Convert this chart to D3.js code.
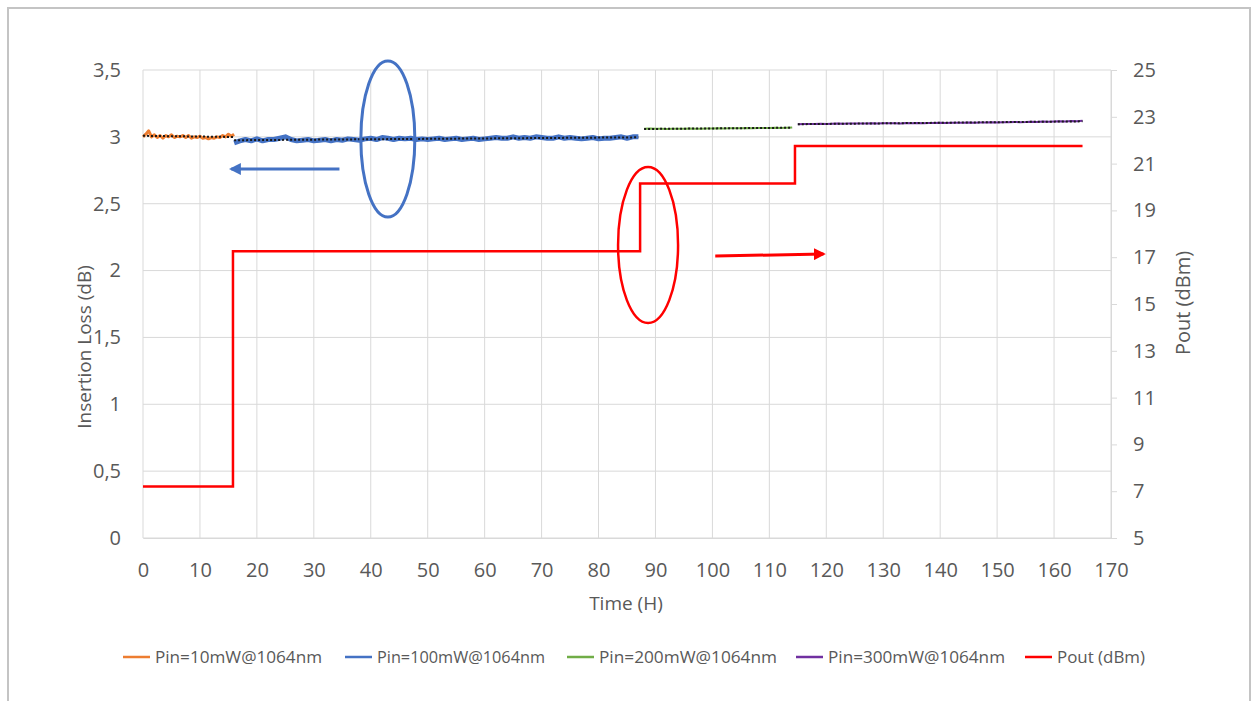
<!DOCTYPE html>
<html>
<head>
<meta charset="utf-8">
<script src="https://cdn.jsdelivr.net/npm/d3@7"></script>
<style>
  body { margin: 0; background: #fff; }
  svg { display: block; font-family: "Open Sans", sans-serif; }
</style>
</head>
<body>
<svg id="chart" width="1258" height="701"></svg>
<script>
// time ticks (H)
var timeTicks = d3.range(0, 171, 10)
var lossTicks = [0, 0.5, 1, 1.5, 2, 2.5, 3, 3.5]
var poutTicks = [5, 7, 9, 11, 13, 15, 17, 19, 21, 23, 25]

// insertion loss, Pin=10mW, t = 0..16 h
var t10 = d3.range(0, 16.5, 0.5)
var il10 = [3.00, 3.02, 3.045, 3.00, 3.015, 2.995, 3.01, 2.99, 3.01, 3.00, 3.015, 2.995, 3.005, 3.00,
  3.01, 2.995, 3.01, 2.99, 3.00, 2.995, 3.005, 2.99, 2.995, 2.985, 2.995, 2.99, 3.00, 2.995,
  3.01, 3.00, 3.02, 3.005, 3.02]

// Pin=100mW, t = 16..87 h
var t100 = d3.range(16, 88)
var il100 = [2.955, 2.97, 2.98, 2.97, 2.985, 2.97, 2.98, 2.98, 2.99, 3.00, 2.98, 2.97,
  2.975, 2.98, 2.97, 2.975, 2.98, 2.97, 2.98, 2.975, 2.985, 2.98, 2.975, 2.985,
  2.99, 2.98, 2.995, 2.99, 2.98, 2.99, 2.985, 2.99, 2.98, 2.985, 2.98, 2.985,
  2.99, 2.98, 2.985, 2.99, 2.98, 2.985, 2.99, 2.98, 2.985, 2.99, 2.995, 2.99,
  2.99, 3.00, 2.99, 2.995, 2.99, 3.00, 2.995, 2.99, 2.99, 3.00, 2.99, 2.995,
  2.99, 2.985, 2.99, 2.995, 2.985, 2.99, 2.99, 2.995, 3.00, 2.99, 3.00, 3.00]

// Pin=200mW, t = 88..114 h
var t200 = d3.range(88, 115)
var il200 = [3.06, 3.062, 3.06, 3.061, 3.059, 3.06, 3.061, 3.06, 3.062, 3.06, 3.061, 3.063, 3.062,
  3.064, 3.063, 3.064, 3.065, 3.064, 3.066, 3.065, 3.066, 3.067, 3.066, 3.068, 3.067, 3.069, 3.07]

// Pin=300mW, t = 115..165 h
var t300 = d3.range(115, 166)
var il300 = [3.095, 3.097, 3.096, 3.097, 3.098, 3.097, 3.098, 3.099, 3.098, 3.099, 3.10,
  3.099, 3.10, 3.101, 3.10, 3.101, 3.102, 3.101, 3.10, 3.103, 3.101, 3.104, 3.102,
  3.103, 3.104, 3.105, 3.104, 3.106, 3.105, 3.106, 3.107, 3.106, 3.108, 3.107, 3.109,
  3.108, 3.11, 3.109, 3.112, 3.11, 3.111, 3.113, 3.112, 3.114, 3.113, 3.115, 3.116,
  3.115, 3.118, 3.117, 3.12]

// Pout (dBm), steps
var tPout = [0, 15.8, 15.8, 87.3, 87.3, 114.5, 114.5, 165]
var pout = [7.2, 7.2, 17.25, 17.25, 20.15, 20.15, 21.75, 21.75]

var legendNames = ["Pin=10mW@1064nm", "Pin=100mW@1064nm", "Pin=200mW@1064nm", "Pin=300mW@1064nm", "Pout (dBm)"]
var colors = ["#ED7D31", "#4472C4", "#70AD47", "#7030A0", "#FF0000"]

var svg = d3.select("#chart")
var pL = 143, pR = 1111, pT = 70, pB = 538

var x = d3.scaleLinear().domain([0, 170]).range([pL, pR])
var y = d3.scaleLinear().domain([0, 3.5]).range([pB, pT])
var y2 = d3.scaleLinear().domain([5, 25]).range([pB, pT])

// outer frame
svg.append("path")
  .attr("d", "M8,705 V8 H1250 V705")
  .attr("fill", "none").attr("stroke", "#c4c4c4").attr("stroke-width", 2)

// gridlines
svg.append("g").selectAll("line").data(lossTicks).enter().append("line")
  .attr("x1", pL).attr("x2", pR)
  .attr("y1", d => y(d)).attr("y2", d => y(d))
  .attr("stroke", "#d9d9d9").attr("stroke-width", 1)
svg.append("g").selectAll("line").data(timeTicks).enter().append("line")
  .attr("x1", d => x(d)).attr("x2", d => x(d))
  .attr("y1", pT).attr("y2", pB)
  .attr("stroke", "#d9d9d9").attr("stroke-width", 1)

// axes
var xAxis = svg.append("g").attr("transform", "translate(0," + pB + ")")
  .call(d3.axisBottom(x).tickValues(timeTicks).tickSize(0).tickPadding(25))
var yAxis = svg.append("g").attr("transform", "translate(" + (pL - 22) + ",0)")
  .call(d3.axisLeft(y).tickValues(lossTicks).tickSize(0).tickPadding(0)
    .tickFormat(d => String(d).replace(".", ",")))
var y2Axis = svg.append("g").attr("transform", "translate(" + pR + ",0)")
  .call(d3.axisRight(y2).tickValues(poutTicks).tickSize(6).tickPadding(16))

xAxis.select(".domain").attr("stroke", "#d9d9d9")
yAxis.select(".domain").remove()
y2Axis.select(".domain").attr("stroke", "#d9d9d9")
y2Axis.selectAll(".tick line").attr("stroke", "#d9d9d9")
svg.selectAll(".tick text").attr("fill", "#595959").style("font-size", "20px")
  .style("font-family", "'Open Sans', sans-serif")

// axis titles
svg.append("text").attr("transform", "translate(91,347) rotate(-90)")
  .attr("text-anchor", "middle").attr("fill", "#595959").style("font-size", "19px")
  .text("Insertion Loss (dB)")
svg.append("text").attr("transform", "translate(1190,303) rotate(-90)")
  .attr("text-anchor", "middle").attr("fill", "#595959").style("font-size", "20px")
  .text("Pout (dBm)")
svg.append("text").attr("x", 626).attr("y", 610)
  .attr("text-anchor", "middle").attr("fill", "#595959").style("font-size", "19px")
  .text("Time (H)")

// series
var series = [[t10, il10], [t100, il100], [t200, il200], [t300, il300]]
var widths = [3, 5, 2, 2]
var line = d3.line().x(d => x(d[0])).y(d => y(d[1]))

series.forEach(function(s, i) {
  var pts = s[0].map((t, k) => [t, s[1][k]])
  svg.append("path").datum(pts)
    .attr("d", line).attr("fill", "none")
    .attr("stroke", colors[i]).attr("stroke-width", widths[i])
    .attr("stroke-linejoin", "round")
})

// linear trendlines (dotted)
series.forEach(function(s) {
  var n = s[0].length
  var mx = d3.mean(s[0]), my = d3.mean(s[1])
  var sxy = d3.sum(s[0], (t, k) => (t - mx) * (s[1][k] - my))
  var sxx = d3.sum(s[0], t => (t - mx) * (t - mx))
  var b = sxy / sxx, a = my - b * mx
  var t0 = s[0][0], t1 = s[0][n - 1]
  svg.append("path").datum([[t0, a + b * t0], [t1, a + b * t1]])
    .attr("d", line).attr("fill", "none")
    .attr("stroke", "#1a1a1a").attr("stroke-width", 2)
    .attr("stroke-dasharray", "2,2")
})

// Pout step line
svg.append("path").datum(tPout.map((t, k) => [t, pout[k]]))
  .attr("d", d3.line().x(d => x(d[0])).y(d => y2(d[1])))
  .attr("fill", "none").attr("stroke", colors[4]).attr("stroke-width", 2.5)

// annotations
var defs = svg.append("defs")
function arrowHead(id, color) {
  defs.append("marker").attr("id", id)
    .attr("viewBox", "0 0 10 10").attr("refX", 8).attr("refY", 5)
    .attr("markerWidth", 4).attr("markerHeight", 4).attr("orient", "auto")
    .append("path").attr("d", "M0,0 L10,5 L0,10 z").attr("fill", color)
}
arrowHead("ab", "#4472C4")
arrowHead("ar", "#FF0000")

svg.append("ellipse").attr("cx", x(43)).attr("cy", 139).attr("rx", 27).attr("ry", 78)
  .attr("fill", "none").attr("stroke", "#4472C4").attr("stroke-width", 3)
svg.append("line").attr("x1", x(34.5)).attr("y1", 169).attr("x2", x(15.5)).attr("y2", 169)
  .attr("stroke", "#4472C4").attr("stroke-width", 3).attr("marker-end", "url(#ab)")

svg.append("ellipse").attr("cx", x(88.7)).attr("cy", 245).attr("rx", 30).attr("ry", 78)
  .attr("fill", "none").attr("stroke", "#FF0000").attr("stroke-width", 2.5)
svg.append("line").attr("x1", x(100.5)).attr("y1", 256).attr("x2", x(119.5)).attr("y2", 254)
  .attr("stroke", "#FF0000").attr("stroke-width", 3).attr("marker-end", "url(#ar)")

// legend
var legendX = [123, 345, 567, 796, 1025]
var legendW = [167, 168, 178, 177, 88]
var lg = svg.append("g").selectAll("g").data(legendNames).enter().append("g")
  .attr("transform", (d, i) => "translate(" + legendX[i] + ",657)")
lg.append("line").attr("x1", 0).attr("x2", 27).attr("y1", 0).attr("y2", 0)
  .attr("stroke", (d, i) => colors[i]).attr("stroke-width", 2.5)
lg.append("text").attr("x", 32).attr("y", 6)
  .attr("fill", "#595959").style("font-size", "16px")
  .attr("textLength", (d, i) => legendW[i]).attr("lengthAdjust", "spacingAndGlyphs")
  .text(d => d)
</script>
</body>
</html>
